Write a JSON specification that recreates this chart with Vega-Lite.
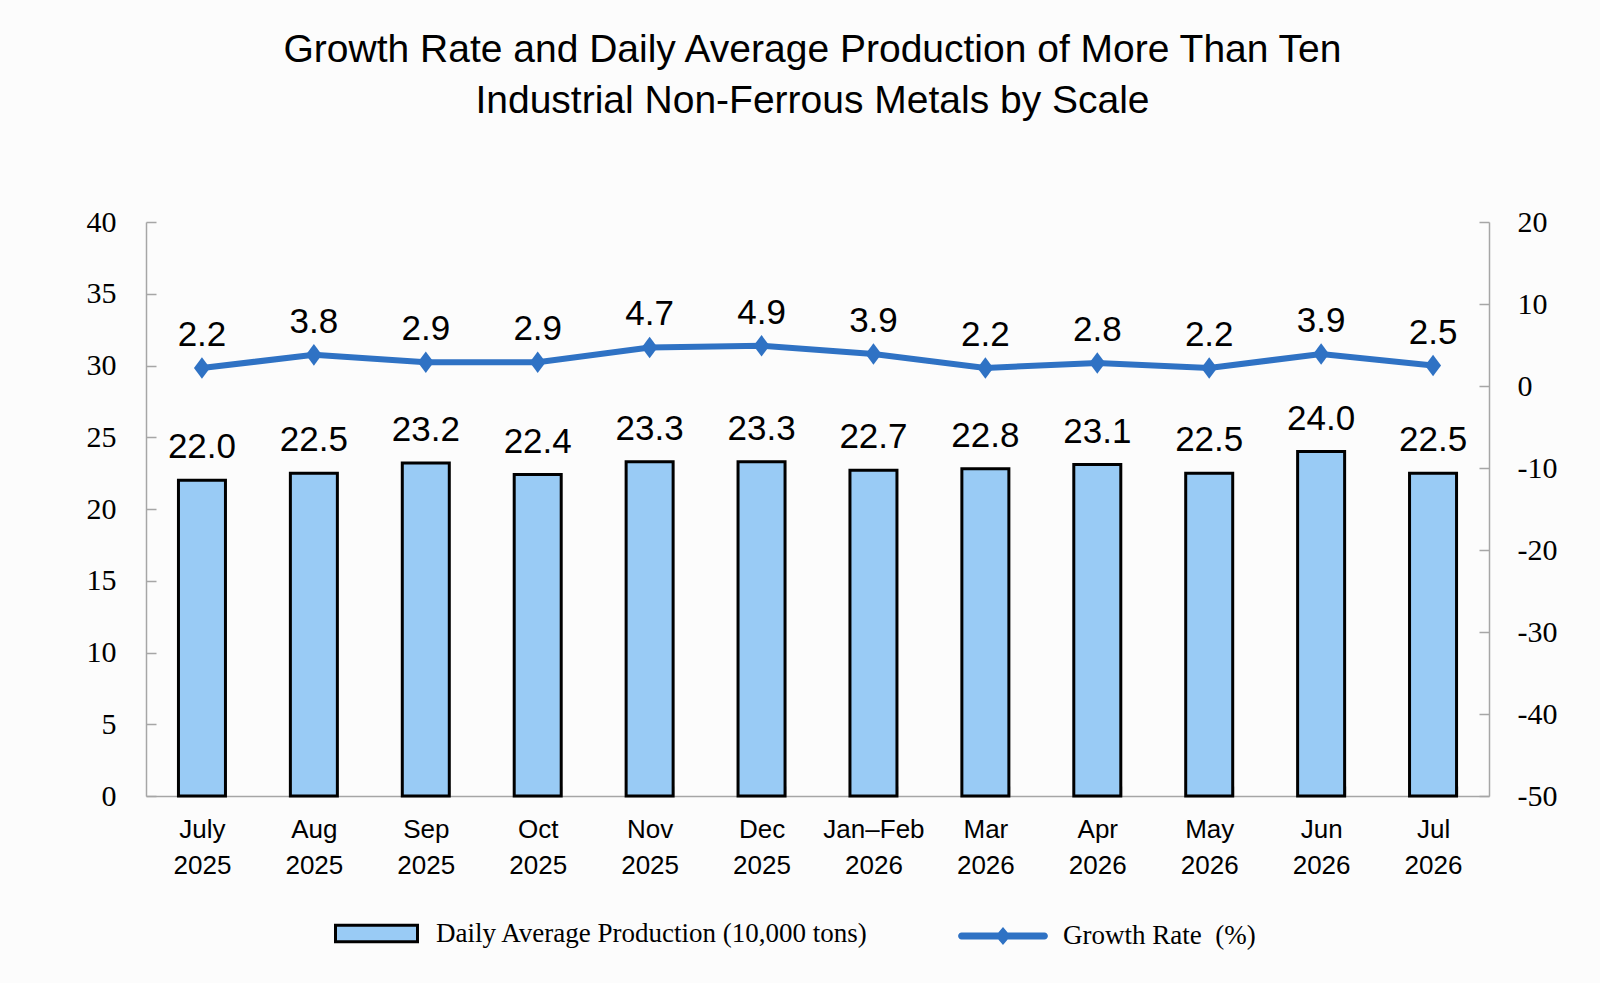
{
  "$schema": "https://vega.github.io/schema/vega-lite/v6.json",
  "width": 1343,
  "height": 574,
  "autosize": {"type": "none"},
  "padding": {"left": 146, "top": 222, "right": 111, "bottom": 187},
  "background": "#fcfcfc",
  "title": {
    "text": ["Growth Rate and Daily Average Production of More Than Ten", "Industrial Non-Ferrous Metals by Scale"],
    "font": "Liberation Sans",
    "fontSize": 39,
    "fontWeight": "normal",
    "lineHeight": 51,
    "color": "#000000",
    "anchor": "middle",
    "dx": -5,
    "offset": 86
  },
  "config": {
    "view": {"stroke": null},
    "axis": {"grid": false, "domainColor": "#a6a6a6", "tickColor": "#a6a6a6", "domainWidth": 1.5, "tickWidth": 1.5, "labelColor": "#000000", "title": null}
  },
  "data": {
    "values": [
      {"month": "July 2025", "prod": 22.0, "growth": 2.2},
      {"month": "Aug 2025", "prod": 22.5, "growth": 3.8},
      {"month": "Sep 2025", "prod": 23.2, "growth": 2.9},
      {"month": "Oct 2025", "prod": 22.4, "growth": 2.9},
      {"month": "Nov 2025", "prod": 23.3, "growth": 4.7},
      {"month": "Dec 2025", "prod": 23.3, "growth": 4.9},
      {"month": "Jan–Feb 2026", "prod": 22.7, "growth": 3.9},
      {"month": "Mar 2026", "prod": 22.8, "growth": 2.2},
      {"month": "Apr 2026", "prod": 23.1, "growth": 2.8},
      {"month": "May 2026", "prod": 22.5, "growth": 2.2},
      {"month": "Jun 2026", "prod": 24.0, "growth": 3.9},
      {"month": "Jul 2026", "prod": 22.5, "growth": 2.5}
    ]
  },
  "encoding": {
    "x": {
      "field": "month", "type": "nominal", "sort": null,
      "scale": {"paddingInner": 0.58, "paddingOuter": 0.29},
      "axis": {
        "labelAngle": 0,
        "labelFont": "Liberation Sans",
        "labelFontSize": 26,
        "labelLineHeight": 36,
        "labelExpr": "split(datum.label, ' ')",
        "tickBand": "extent",
        "tickSize": -10,
        "labelPadding": 30
      }
    }
  },
  "layer": [
    {
      "encoding": {
        "y": {
          "field": "prod", "type": "quantitative",
          "scale": {"domain": [0, 40], "nice": false},
          "axis": {
            "orient": "left",
            "values": [0, 5, 10, 15, 20, 25, 30, 35, 40],
            "labelFont": "Liberation Serif",
            "labelFontSize": 30,
            "tickSize": -10,
            "labelPadding": 40
          }
        }
      },
      "layer": [
        {
          "mark": {"type": "bar", "stroke": "#000000", "strokeWidth": 3},
          "encoding": {
            "fill": {
              "datum": "Daily Average Production (10,000 tons)",
              "type": "nominal",
              "scale": {"range": ["#99cbf5"]},
              "legend": {
                "title": null,
                "orient": "none",
                "legendX": 188,
                "legendY": 669,
                "symbolType": "M-1,-0.2H1V0.2H-1Z",
                "symbolSize": 6724,
                "symbolStrokeColor": "#000000",
                "symbolStrokeWidth": 3,
                "labelFont": "Liberation Serif",
                "labelFontSize": 27,
                "labelColor": "#000000",
                "labelOffset": 17,
                "labelLimit": 0
              }
            }
          }
        },
        {
          "mark": {"type": "text", "font": "Liberation Sans", "fontSize": 35, "baseline": "alphabetic", "dy": -22, "color": "#000000"},
          "encoding": {"text": {"field": "prod", "format": ".1f"}}
        }
      ]
    },
    {
      "encoding": {
        "y": {
          "field": "growth", "type": "quantitative",
          "scale": {"domain": [-50, 20], "nice": false, "zero": false},
          "axis": {
            "orient": "right",
            "values": [-50, -40, -30, -20, -10, 0, 10, 20],
            "labelExpr": "'' + datum.value",
            "labelFont": "Liberation Serif",
            "labelFontSize": 30,
            "tickSize": -10,
            "labelPadding": 38
          }
        }
      },
      "layer": [
        {
          "mark": {"type": "line", "color": "#2f72c4", "strokeWidth": 6},
          "encoding": {}
        },
        {
          "mark": {"type": "point", "filled": true, "opacity": 1, "shape": "M0,-1.35L1,0L0,1.35L-1,0Z", "size": 256},
          "encoding": {
            "color": {
              "datum": "Growth Rate\u00a0 (%)",
              "type": "nominal",
              "scale": {"range": ["#2f72c4"]},
              "legend": {
                "title": null,
                "orient": "none",
                "legendX": 812,
                "legendY": 669,
                "symbolType": "M-0.92,-0.078H0.92A0.078,0.078 0 0 1 0.92,0.078H-0.92A0.078,0.078 0 0 1 -0.92,-0.078Z M0,-0.2L0.17,0L0,0.2L-0.17,0Z",
                "symbolSize": 8100,
                "symbolStrokeWidth": 0,
                "labelFont": "Liberation Serif",
                "labelFontSize": 27,
                "labelColor": "#000000",
                "labelOffset": 15,
                "labelLimit": 0
              }
            }
          }
        },
        {
          "mark": {"type": "text", "font": "Liberation Sans", "fontSize": 35, "baseline": "alphabetic", "dy": -22, "color": "#000000"},
          "encoding": {"text": {"field": "growth", "format": ".1f"}}
        }
      ]
    }
  ],
  "resolve": {"scale": {"y": "independent"}}
}
